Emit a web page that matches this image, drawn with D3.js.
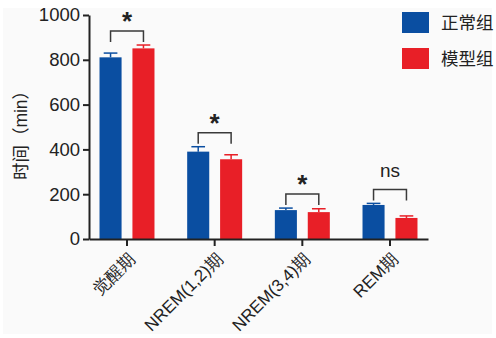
<!DOCTYPE html>
<html>
<head>
<meta charset="utf-8">
<script src="https://cdn.jsdelivr.net/npm/d3@7"></script>
<style>
  html, body { margin: 0; padding: 0; background: #fff; }
  svg { display: block; font-family: "Liberation Sans", Arial, "Noto Sans CJK SC", sans-serif; }
</style>
</head>
<body>
<div id="chart"></div>
<script>
// data
const categories = ['觉醒期', 'NREM(1,2)期', 'NREM(3,4)期', 'REM期'];
const seriesNames = ['正常组', '模型组'];
const normalMean = [811, 390, 129, 152];
const normalErr  = [19, 22, 9, 7];
const modelMean  = [851, 356, 120, 94];
const modelErr   = [15, 20, 15, 9];
const sigLabels  = ['*', '*', '*', 'ns'];
const yTicks = [0, 200, 400, 600, 800, 1000];

const colors = ['#0a4ea1', '#e81f27'];

const width = 496, height = 338;
const margin = {top: 15, right: 68, bottom: 99, left: 89};
const innerW = 428 - margin.left;
const innerH = height - margin.top - margin.bottom;

const svg = d3.select('#chart').append('svg')
  .attr('width', width)
  .attr('height', height);

// light panel background
svg.append('rect')
  .attr('x', 3).attr('y', 8)
  .attr('width', 489).attr('height', 326)
  .attr('fill', '#fafafa');

const g = svg.append('g')
  .attr('transform', `translate(${margin.left},${margin.top})`);

const x0 = d3.scaleBand()
  .domain(categories)
  .range([0, innerW])
  .paddingInner(0.373)
  .paddingOuter(0.12);

const x1 = d3.scaleBand()
  .domain(seriesNames)
  .range([0, x0.bandwidth()])
  .paddingInner(0.33);

const y = d3.scaleLinear()
  .domain([0, 1000])
  .range([innerH, 0]);

const rows = categories.map((c, i) => ({
  cat: c,
  sig: sigLabels[i],
  vals: [
    {s: seriesNames[0], m: normalMean[i], e: normalErr[i]},
    {s: seriesNames[1], m: modelMean[i], e: modelErr[i]},
  ],
}));

const groups = g.selectAll('.grp')
  .data(rows)
  .enter().append('g')
  .attr('class', 'grp')
  .attr('transform', d => `translate(${x0(d.cat)},0)`);

const capW = x1.bandwidth() * 0.62;

groups.each(function(d) {
  const grp = d3.select(this);
  d.vals.forEach((v, j) => {
    const cx = x1(v.s) + x1.bandwidth() / 2;
    // error bar (upper only)
    grp.append('line')
      .attr('x1', cx).attr('x2', cx)
      .attr('y1', y(v.m)).attr('y2', y(v.m + v.e))
      .attr('stroke', colors[j]).attr('stroke-width', 1.5);
    grp.append('line')
      .attr('x1', cx - capW / 2).attr('x2', cx + capW / 2)
      .attr('y1', y(v.m + v.e)).attr('y2', y(v.m + v.e))
      .attr('stroke', colors[j]).attr('stroke-width', 1.5);
    grp.append('rect')
      .attr('x', x1(v.s))
      .attr('y', y(v.m))
      .attr('width', x1.bandwidth())
      .attr('height', innerH - y(v.m))
      .attr('fill', colors[j]);
  });

  // significance bracket
  const xa = x1(seriesNames[0]) + x1.bandwidth() / 2;
  const xb = x1(seriesNames[1]) + x1.bandwidth() / 2;
  const top = d3.max(d.vals, v => v.m + v.e);
  const by = y(top) - 14;
  grp.append('path')
    .attr('d', `M${xa},${by + 11}V${by}H${xb}V${by + 11}`)
    .attr('fill', 'none')
    .attr('stroke', '#3a3a3a')
    .attr('stroke-width', 1.5);
  const mid = (xa + xb) / 2;
  if (d.sig === '*') {
    grp.append('text')
      .attr('x', mid).attr('y', by - 1)
      .attr('text-anchor', 'middle')
      .attr('font-size', 26)
      .attr('font-weight', 'bold')
      .attr('fill', '#222')
      .text('*');
  } else {
    grp.append('text')
      .attr('x', mid).attr('y', by - 12)
      .attr('text-anchor', 'middle')
      .attr('font-size', 19)
      .attr('fill', '#222')
      .text(d.sig);
  }
});

// axes
const yAxis = g.append('g')
  .call(d3.axisLeft(y).tickValues(yTicks).tickFormat(d3.format('d')).tickSize(6).tickSizeOuter(0));
yAxis.select('.domain').attr('stroke', '#222').attr('stroke-width', 2);
yAxis.selectAll('.tick line').attr('stroke', '#222').attr('stroke-width', 2);
yAxis.selectAll('.tick text')
  .attr('font-size', 18.5)
  .attr('fill', '#222')
  .attr('x', -9);

const xAxis = g.append('g')
  .attr('transform', `translate(0,${innerH})`)
  .call(d3.axisBottom(x0).tickSize(7).tickSizeOuter(0));
xAxis.select('.domain').attr('stroke', '#222').attr('stroke-width', 2);
xAxis.selectAll('.tick line').attr('stroke', '#222').attr('stroke-width', 2);
xAxis.selectAll('.tick text')
  .attr('font-size', 17)
  .attr('fill', '#222')
  .attr('text-anchor', 'end')
  .attr('dy', 0)
  .attr('transform', 'translate(9,21) rotate(-45)')
  .attr('x', 0).attr('y', 0);

// y axis title
svg.append('text')
  .attr('transform', `translate(27,131) rotate(-90)`)
  .attr('text-anchor', 'middle')
  .attr('font-size', 17.5)
  .attr('fill', '#222')
  .text('时间（min）');

// legend
const legend = svg.append('g')
  .attr('transform', 'translate(402,12)');
seriesNames.forEach((s, i) => {
  legend.append('rect')
    .attr('x', 0).attr('y', i * 36)
    .attr('width', 27).attr('height', 21)
    .attr('fill', colors[i]);
  legend.append('text')
    .attr('x', 39).attr('y', i * 36 + 17)
    .attr('font-size', 17.5)
    .attr('fill', '#222')
    .text(s);
});
</script>
</body>
</html>
